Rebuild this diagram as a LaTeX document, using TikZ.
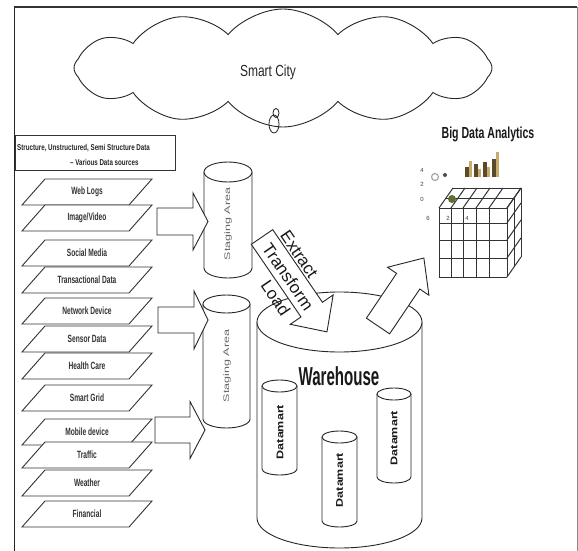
\documentclass[tikz,border=0pt]{standalone}
\usepackage{fontspec}
\setmainfont{Liberation Sans}
\newfontfamily\fsmart[FakeStretch=0.75]{Liberation Sans}
\newfontfamily\fbda[FakeStretch=0.66]{Liberation Sans}
\newfontfamily\fware[FakeStretch=0.58]{Liberation Sans}
\newfontfamily\fsrc[FakeStretch=0.63]{Liberation Sans}
\newfontfamily\fhead[FakeStretch=0.73]{Liberation Sans}
\usetikzlibrary{shapes.symbols}
\definecolor{bardark}{RGB}{90,75,40}
\definecolor{barlight}{RGB}{200,170,110}
\definecolor{mkgreen}{RGB}{95,110,50}

\newcommand{\blockarrow}[8]{% name x y angle len shafthalf headhalf headlen
\begin{scope}[shift={(#2,#3)},rotate=#4]
\draw[blockar] (0,-#6) -- ({#5-#8},-#6) -- ({#5-#8},-#7) -- (#5,0) -- ({#5-#8},#7) -- ({#5-#8},#6) -- (0,#6) -- cycle;
\coordinate (#1) at (#5,0);
\end{scope}}

\newcommand{\drum}[6]{% name cx ytop rx ybot ry
\draw[drumline] ({#2-#4},#3) -- ({#2-#4},#5) .. controls ({#2-#4},{#5+0.5523*#6}) and ({#2-0.5523*#4},{#5+#6}) .. (#2,{#5+#6}) .. controls ({#2+0.5523*#4},{#5+#6}) and ({#2+#4},{#5+0.5523*#6}) .. ({#2+#4},#5) -- ({#2+#4},#3);
\draw[drumline] (#2,#3) ellipse[x radius=#4, y radius=#6];
\coordinate (#1) at (#2,{(#3+#5)/2});}

\newcommand{\srcbox}[3]{% name y label
\draw[pbox] (45,{#2-13}) -- (152,{#2-13}) -- (129,{#2+13}) -- (22,{#2+13}) -- cycle;
\node[plabel] (#1) at (87,#2) {#3};}

\begin{document}
\begin{tikzpicture}[x=1pt,y=-1pt,
  blockar/.style={line width=0.9pt, draw=black!85, fill=white, line join=miter},
  drumline/.style={line width=0.9pt, draw=black!85, fill=white},
  pbox/.style={line width=0.9pt, draw=black!80, fill=white},
  plabel/.style={font=\fsrc\bfseries\fontsize{10.5}{12}\selectfont, text=black!80, inner sep=0pt},
  headtxt/.style={font=\fhead\bfseries\fontsize{8.5}{10}\selectfont, text=black!85, inner sep=0pt, anchor=west},
  stage/.style={font=\fontsize{12.5}{14}\selectfont, text=black!60, inner sep=0pt, rotate=90},
  dm/.style={font=\bfseries\fontsize{12.5}{14}\selectfont, text=black!90, inner sep=0pt, rotate=90},
  etl/.style={font=\fontsize{17}{22}\selectfont, text=black!90, inner sep=0pt, rotate=-55.6, align=left, anchor=west},
  cube/.style={line width=1pt, draw=black!80},
  tiny/.style={font=\fontsize{6}{7}\selectfont, text=black!75, inner sep=0pt}]
\useasboundingbox (0,0) rectangle (578,551);
\fill[white] (0,0) rectangle (578,551);

% frame
\draw[line width=0.8pt, black!85] (14,551) -- (14,7);
\draw[line width=1.2pt, black!80] (14,7) -- (577,7);
\draw[line width=0.6pt, black!45] (577,7) -- (577,551);

% cloud
\node[cloud, draw=black!85, line width=0.9pt, cloud puffs=12, cloud puff arc=100, aspect=3.5,
  minimum width=418, minimum height=118] (city) at (283,68) {};
\node[font=\fsmart\fontsize{16}{18}\selectfont, text=black!85] (citytxt) at (268,72) {Smart City};
\draw[line width=0.8pt, black!85] (274,124) ellipse[x radius=5, y radius=9];
\draw[line width=0.8pt, black!85] (276,113) ellipse[x radius=3, y radius=4.5];

% header box
\draw[line width=0.9pt, draw=black!80] (15,135) rectangle (175,170);
\node[headtxt] (h1) at (17,148) {Structure, Unstructured, Semi Structure Data};
\node[headtxt] (h2) at (70,162) {– Various Data sources};

% sources
\srcbox{s1}{192}{Web Logs}
\srcbox{s2}{218}{Image/Video}
\srcbox{s3}{253}{Social Media}
\srcbox{s4}{280}{Transactional Data}
\srcbox{s5}{311}{Network Device}
\srcbox{s6}{339}{Sensor Data}
\srcbox{s7}{366}{Health Care}
\srcbox{s8}{398}{Smart Grid}
\srcbox{s9}{432}{Mobile device}
\srcbox{s10}{455}{Traffic}
\srcbox{s11}{483}{Weather}
\srcbox{s12}{514}{Financial}

% staging areas
\drum{st1}{228}{172}{24}{268}{10}
\node[stage] (st1t) at (228,224) {\scalebox{1}[0.65]{Staging Area}};
\drum{st2}{226.5}{304}{23.5}{419}{9}
\node[stage] (st2t) at (227,366) {\scalebox{1}[0.65]{Staging Area}};

% input arrows
\blockarrow{a1}{157}{221.5}{0}{51}{13.5}{28.5}{15}
\blockarrow{a2}{158}{320}{0}{50}{13}{29}{14}
\blockarrow{a3}{155}{430}{0}{50}{13}{28.5}{15}

% warehouse
\drum{wh}{339.5}{322}{82.5}{518}{30}
\node[font=\fware\bfseries\fontsize{26}{28}\selectfont, text=black!90, inner sep=0pt] (whtxt) at (339,376) {Warehouse};
\drum{dm1}{279.5}{386}{17.5}{469}{6}
\node[dm] (dm1t) at (280,432) {\scalebox{1}[0.78]{Datamart}};
\drum{dm2}{339.5}{437}{17.5}{521}{6}
\node[dm] (dm2t) at (339.5,480) {\scalebox{1}[0.78]{Datamart}};
\drum{dm3}{394}{394}{17}{477}{6}
\node[dm] (dm3t) at (394,438) {\scalebox{1}[0.78]{Datamart}};

% ETL arrow and up arrow
\blockarrow{etlhead}{262}{237}{-55.6}{115}{13}{26}{27}
\node[etl] (etltxt) at (266,245) {Extract\\Transform\\\hspace*{30pt}Load};
\blockarrow{uphead}{378}{326}{56}{82}{14}{25}{28}

% big data analytics
\node[font=\fbda\bfseries\fontsize{16}{18}\selectfont, text=black!90, inner sep=0pt] (bda) at (488,134) {Big Data Analytics};
% bars
\foreach \x/\ha/\hb in {465/10/16, 474/13/8, 483/15/10, 492/18/25} {
  \fill[bardark] (\x,177) rectangle ++(3.5,-\ha);
  \fill[barlight] ({\x+3.5},177) rectangle ++(3,-\hb);
}
% axis labels
\node[tiny] (l4) at (422,170) {4};
\node[tiny] (l2) at (422,184) {2};
\node[tiny] (l0) at (422,199) {0};
\node[tiny] (b6) at (428,218) {6};
\node[tiny] (b2) at (448,218) {2};
\node[tiny] (b4) at (467,218) {4};
\draw[black!35, line width=1.2pt] (435,177) circle[radius=3.5];
\fill[black!70] (445,175) circle[radius=2];
% cube
\foreach \x in {439,451,463,476,489,507} {
  \draw[cube] (\x,208) -- (\x,277);
  \draw[cube] (\x,208) -- ++(14,-20);
}
\foreach \y in {208,223,240,258,277} {
  \draw[cube] (439,\y) -- (507,\y);
  \draw[cube] (507,\y) -- ++(14,-20);
}
\draw[cube] (446,198) -- (514,198);
\draw[cube] (453,188) -- (521,188);
\draw[cube] (514,198) -- (514,267);
\draw[cube] (521,188) -- (521,257);
\fill[mkgreen] (452,199) circle[radius=4];
\end{tikzpicture}
\end{document}
